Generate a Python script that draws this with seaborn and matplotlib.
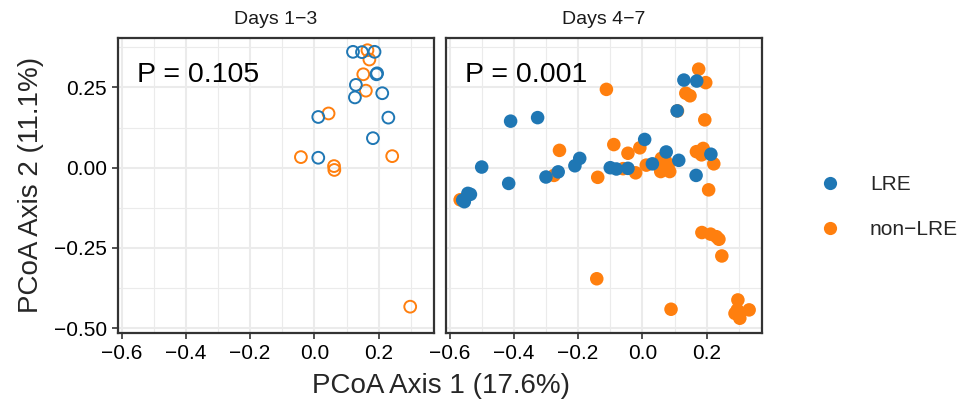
import matplotlib
matplotlib.use("Agg")
import matplotlib.pyplot as plt
from matplotlib.lines import Line2D
from matplotlib.ticker import MultipleLocator
import seaborn as sns
import pandas as pd

# ---------------- data ----------------
groups = ["LRE", "non-LRE"]
legend_labels = ["LRE", "non\u2212LRE"]
panel_titles = ["Days 1\u22123", "Days 4\u22127"]
p_values = ["P = 0.105", "P = 0.001"]
x_ticks = [-0.6, -0.4, -0.2, 0.0, 0.2]
y_ticks = [-0.50, -0.25, 0.00, 0.25]

d13_lre_x = [0.120, 0.148, 0.187, 0.195, 0.193, 0.129, 0.211, 0.126, 0.012, 0.230, 0.182, 0.012]
d13_lre_y = [0.361, 0.360, 0.361, 0.294, 0.291, 0.258, 0.232, 0.219, 0.158, 0.156, 0.092, 0.031]
d13_non_x = [0.165, 0.171, 0.152, 0.160, 0.044, -0.042, 0.061, 0.062, 0.242, 0.298]
d13_non_y = [0.366, 0.337, 0.291, 0.240, 0.169, 0.033, 0.005, -0.007, 0.036, -0.433]

d47_lre_x = [-0.410, -0.326, -0.500, -0.416, -0.300, -0.262, -0.210, -0.195, -0.554, -0.543,
             -0.535, -0.559, 0.007, 0.074, 0.031, 0.113, 0.167, 0.213, -0.100, -0.081,
             -0.045, 0.108, 0.129, 0.169]
d47_lre_y = [0.145, 0.156, 0.002, -0.049, -0.029, -0.013, 0.006, 0.029, -0.106, -0.080,
             -0.083, -0.101, 0.088, 0.049, 0.012, 0.023, -0.024, 0.042, 0.000, -0.004,
             -0.002, 0.177, 0.273, 0.270]
d47_non_x = [-0.258, -0.275, -0.139, -0.567, -0.089, -0.045, -0.008, -0.060, -0.021, 0.012,
             0.059, 0.073, 0.049, 0.057, 0.085, 0.080, 0.109, 0.194, 0.168, 0.189,
             0.184, 0.222, 0.206, 0.135, 0.148, 0.175, 0.197, 0.185, 0.212, 0.230,
             0.238, 0.247, 0.089, 0.297, 0.295, 0.332, 0.303, 0.301, 0.288, -0.142,
             -0.112]
d47_non_y = [0.054, -0.024, -0.030, -0.100, 0.072, 0.045, 0.062, -0.003, -0.016, 0.008,
             0.029, 0.019, 0.008, -0.012, -0.012, 0.008, 0.177, 0.149, 0.050, 0.060,
             0.040, 0.012, -0.069, 0.232, 0.224, 0.307, 0.265, -0.202, -0.207, -0.215,
             -0.223, -0.275, -0.441, -0.412, -0.443, -0.443, -0.469, -0.459, -0.454, -0.346,
             0.244]

palette = {"LRE": "#1F77B4", "non-LRE": "#FF7F0E"}


def make_df(lx, ly, nx, ny):
    # non-LRE drawn first, LRE on top
    return pd.DataFrame({
        "x": list(nx) + list(lx),
        "y": list(ny) + list(ly),
        "group": ["non-LRE"] * len(nx) + ["LRE"] * len(lx),
    })


dfs = [make_df(d13_lre_x, d13_lre_y, d13_non_x, d13_non_y),
       make_df(d47_lre_x, d47_lre_y, d47_non_x, d47_non_y)]

# ---------------- figure ----------------
sns.set_theme(style="white")
plt.rcParams["font.family"] = ["Liberation Sans", "DejaVu Sans"]

W, H = 972, 405
fig = plt.figure(figsize=(W / 100, H / 100), dpi=100)
fig.patch.set_facecolor("white")

panel_px = [(118, 434), (446, 762)]
top_px, bot_px = 37.7, 333
axes = []
for (l, r) in panel_px:
    ax = fig.add_axes([l / W, 1 - bot_px / H, (r - l) / W, (bot_px - top_px) / H])
    axes.append(ax)

for i, (ax, df) in enumerate(zip(axes, dfs)):
    hollow = (i == 0)
    sns.scatterplot(data=df, x="x", y="y", hue="group", palette=palette,
                    hue_order=groups, s=72 if hollow else 95,
                    linewidth=1.4 if hollow else 0, ax=ax, legend=False,
                    zorder=3)
    if hollow:
        for coll in ax.collections:
            fc = coll.get_facecolors()
            coll.set_edgecolors(fc)
            coll.set_facecolors("none")
    ax.set_xlim(-0.611, 0.372)
    ax.set_ylim(-0.515, 0.405)
    ax.xaxis.set_major_locator(MultipleLocator(0.2))
    ax.xaxis.set_minor_locator(MultipleLocator(0.1))
    ax.set_yticks(y_ticks)
    ax.yaxis.set_minor_locator(MultipleLocator(0.125))
    ax.set_xticks(x_ticks)
    ax.set_xticklabels([f"{v:.1f}".replace("-", "\u2212") for v in x_ticks], fontsize=15)
    ax.grid(True, which="major", color="#EBEBEB", linewidth=1.5, zorder=0)
    ax.grid(True, which="minor", color="#EBEBEB", linewidth=0.8, zorder=0)
    ax.set_axisbelow(True)
    for sp in ax.spines.values():
        sp.set_color("#333333")
        sp.set_linewidth(1.6)
    ax.tick_params(axis="both", which="major", direction="out", length=4,
                   width=1.2, color="#333333", labelsize=15, labelcolor="black",
                   bottom=True, left=True, pad=4)
    ax.tick_params(axis="both", which="minor", length=0)
    ax.set_xlabel("")
    ax.set_ylabel("")
    if i == 0:
        ax.set_yticklabels([f"{v:.2f}".replace("-", "\u2212") for v in y_ticks], fontsize=15)
    else:
        ax.tick_params(axis="y", which="major", labelleft=False, length=0)
    ax.text(0.06, 0.875, p_values[i], transform=ax.transAxes, fontsize=20.5,
            ha="left", va="center", color="black")
    ax.set_title(panel_titles[i], fontsize=14, pad=10, color="#1A1A1A")

fig.text(441 / W, 1 - 386 / H, "PCoA Axis 1 (17.6%)", fontsize=20,
         ha="center", va="center")
fig.text(31 / W, 1 - 185 / H, "PCoA Axis 2 (11.1%)", fontsize=20,
         ha="center", va="center", rotation=90)

handles = [Line2D([0], [0], marker="o", linestyle="none", markersize=9.5,
                  markerfacecolor=palette[g], markeredgewidth=0) for g in groups]
fig.legend(handles, legend_labels, loc="center left",
           bbox_to_anchor=(801 / W, 1 - 207 / H), frameon=False, fontsize=15,
           handletextpad=0.9, labelspacing=1.25, borderaxespad=0)

fig.savefig("out.png", dpi=100, facecolor="white")
